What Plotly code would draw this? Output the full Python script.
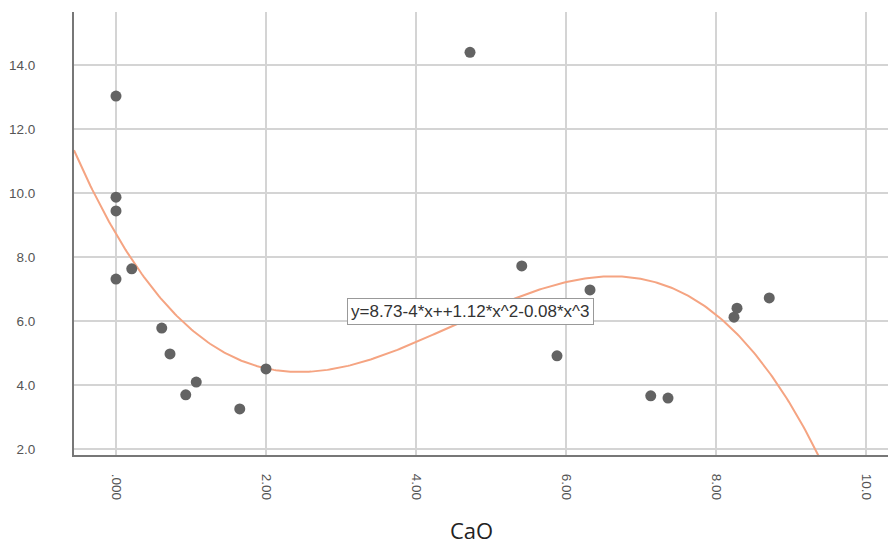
import numpy as np
import plotly.graph_objects as go

# Data (CaO vs. y)
cao = [0.0, 0.0, 0.0, 0.0, 0.21, 0.61, 0.72, 0.93, 1.07, 1.65, 2.0,
       4.72, 5.41, 5.88, 6.32, 7.13, 7.36, 8.24, 8.28, 8.71]
yval = [13.03, 9.87, 9.44, 7.31, 7.63, 5.78, 4.97, 3.69, 4.09, 3.25, 4.50,
        14.40, 7.72, 4.91, 6.97, 3.66, 3.59, 6.12, 6.40, 6.72]

x_ticks = [0, 2, 4, 6, 8, 10]
x_tick_labels = [".000", "2.00", "4.00", "6.00", "8.00", "10.0"]
y_ticks = [2, 4, 6, 8, 10, 12, 14]
y_tick_labels = ["2.0", "4.0", "6.0", "8.0", "10.0", "12.0", "14.0"]
equation = "y=8.73-4*x++1.12*x^2-0.08*x^3"

x_range = [-0.56, 10.4]
y_range = [1.81, 15.66]

# cubic fit line
coef = np.polyfit(cao, yval, 3)
xf = np.linspace(x_range[0], x_range[1], 400)
yf = np.polyval(coef, xf)

fig = go.Figure()
fig.add_trace(go.Scatter(x=xf, y=yf, mode="lines",
                         line=dict(color="#F5A482", width=2),
                         hoverinfo="skip", showlegend=False))
fig.add_trace(go.Scatter(x=cao, y=yval, mode="markers",
                         marker=dict(color="#636363", size=11),
                         showlegend=False))

fig.add_annotation(x=4.72, y=6.3, xref="x", yref="y", text=equation,
                   showarrow=False, bgcolor="white", bordercolor="#999999",
                   borderwidth=1, borderpad=3,
                   font=dict(family="Liberation Sans", size=17, color="#333333"))

fig.add_annotation(x=0.483, y=-0.169, xref="paper", yref="paper", text="CaO",
                   showarrow=False, yanchor="middle",
                   font=dict(family="Open Sans", size=22, color="#222222"))

# page has an 8px body margin; compensate so plot area sits at the reference spot
fig.update_layout(
    width=888, height=537,
    margin=dict(l=66, r=0, t=4, b=90),
    paper_bgcolor="white", plot_bgcolor="white",
    showlegend=False,
)
fig.update_xaxes(range=x_range, tickvals=x_ticks, ticktext=x_tick_labels,
                 tickangle=90, showgrid=True, gridcolor="#d4d4d4", gridwidth=1.5,
                 showline=True, linecolor="#777777", linewidth=2,
                 zeroline=False, ticks="", ticklabelstandoff=14,
                 tickfont=dict(family="Liberation Sans", size=13.5, color="#555555"))
fig.update_yaxes(range=y_range, tickvals=y_ticks, ticktext=y_tick_labels,
                 showgrid=True, gridcolor="#d4d4d4", gridwidth=1.5,
                 showline=True, linecolor="#777777", linewidth=2,
                 zeroline=False, ticks="", ticklabelstandoff=34,
                 tickfont=dict(family="Liberation Sans", size=13.5, color="#555555"))

fig.write_html("out.html")
